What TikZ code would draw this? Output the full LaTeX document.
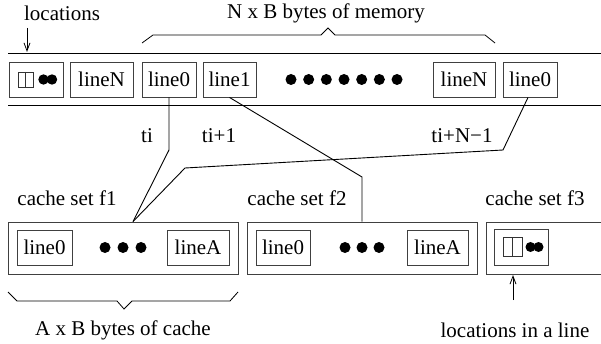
\documentclass[tikz,border=0pt]{standalone}
\usepackage{fontspec}
\setmainfont{Liberation Serif}
\usetikzlibrary{arrows.meta}
\begin{document}
\begin{tikzpicture}[x=1pt,y=-1pt,
  every node/.style={font=\fontsize{21}{24}\selectfont},
  box/.style={draw=black!75, line width=0.9pt, minimum height=35pt, inner sep=0pt, rectangle},
  outerbox/.style={draw=black!75, line width=0.9pt, minimum height=52pt, inner sep=0pt, rectangle},
  wire/.style={draw=black, line width=0.9pt},
  bigdot/.style={circle, fill=black, minimum size=11pt, inner sep=0pt},
  lbl/.style={inner sep=0pt},
  barb/.style={-{Straight Barb[length=8pt,width=6pt]}, line width=0.8pt}
]
\useasboundingbox (0,0) rectangle (601,344);
\clip (0,0) rectangle (601,344);

% memory rails
\draw[wire] (8,53) -- (610,53);
\draw[wire] (8,105) -- (610,105);

% top labels
\node[lbl] (locT) at (62,13) {locations};
\node[lbl] (memT) at (326,13) {N x B bytes of memory};
\coordinate (a1s) at (27,28);
\coordinate (a1e) at (27,52);
\draw[barb] (a1s) -- (a1e);

% top brace
\draw[line width=0.8pt] (142,43) -- (153,35) -- (321,35) -- (328,28) -- (335,35) -- (485,35) -- (495,43);

% memory boxes
\node[box, minimum width=54pt] (mloc) at (36,79.5) {};
\node[box, minimum width=63pt] (mNa) at (101.5,79.5) {lineN};
\node[box, minimum width=54pt] (m0a) at (169,79.5) {line0};
\node[box, minimum width=53pt] (m1) at (229.5,79.5) {line1};
\node[box, minimum width=62pt] (mNb) at (464,79.5) {lineN};
\node[box, minimum width=54pt] (m0b) at (530,79.5) {line0};

% location symbol in memory
\draw[black!80, line width=0.7pt] (18,72) rectangle (33,87);
\draw[black!80, line width=0.7pt] (25.5,72) -- (25.5,87);
\fill (43.5,79.5) circle (5.2pt);
\fill (52,79.5) circle (5.2pt);

% memory dots
\foreach \i in {0,...,6}{
  \node[bigdot] (md\i) at ({291+\i*17.67},79.5) {};
}

% cache sets
\node[lbl] (c1T) at (67,198) {cache set f1};
\node[lbl] (c2T) at (297,198) {cache set f2};
\node[lbl] (c3T) at (535,198) {cache set f3};

\node[outerbox, minimum width=230pt] (f1) at (123,248) {};
\node[outerbox, minimum width=230pt] (f2) at (362,248) {};
\node[outerbox, minimum width=230pt, anchor=west] (f3) at (486,248) {};

\node[box, minimum width=55pt] (c10) at (44.5,247.5) {line0};
\node[box, minimum width=62pt] (c1A) at (198,247.5) {lineA};
\node[box, minimum width=54pt] (c20) at (283,247.5) {line0};
\node[box, minimum width=61pt] (c2A) at (437.5,247.5) {lineA};
\node[box, minimum width=54pt, minimum height=36pt] (c3) at (521,247) {};

\foreach \x [count=\k] in {105,123,141}{
  \node[bigdot] (d1\k) at (\x,247.5) {};
}
\foreach \x [count=\k] in {345,362,379}{
  \node[bigdot] (d2\k) at (\x,247.5) {};
}

% location symbol in cache set f3
\draw[black!80, line width=0.7pt] (503,237.5) rectangle (522,256.5);
\draw[black!80, line width=0.7pt] (512.5,237.5) -- (512.5,256.5);
\fill (530.5,247) circle (5pt);
\fill (538.5,247) circle (5pt);

% connectors
\coordinate (f1in) at ([xshift=10pt]f1.north);
\coordinate (j1) at (169,150);
\coordinate (j2) at (362,177);
\coordinate (j3) at (503,150);
\coordinate (j4) at (185,168);
\draw[wire] (m0a.south) -- (j1) -- (f1in);
\draw[wire] (m1.south) -- (j2) -- (f2.north);
\draw[wire] ([xshift=-2pt]m0b.south) -- (j3) -- (j4) -- (f1in);

\node[lbl] (tiA) at (147,136) {ti};
\node[lbl] (tiB) at (219,136) {ti+1};
\node[lbl] (tiC) at (462,136) {ti+N−1};

% bottom brace
\draw[line width=0.8pt] (8,292) -- (17,301) -- (117,301) -- (124,309) -- (132,301) -- (230,301) -- (238,292);
\node[lbl] (cacheT) at (123,330) {A x B bytes of cache};

% bottom arrow
\coordinate (a2s) at (513,300);
\coordinate (a2e) at (513,275);
\draw[barb] (a2s) -- (a2e);
\node[lbl] (locLineT) at (515,330) {locations in a line};
\end{tikzpicture}
\end{document}
